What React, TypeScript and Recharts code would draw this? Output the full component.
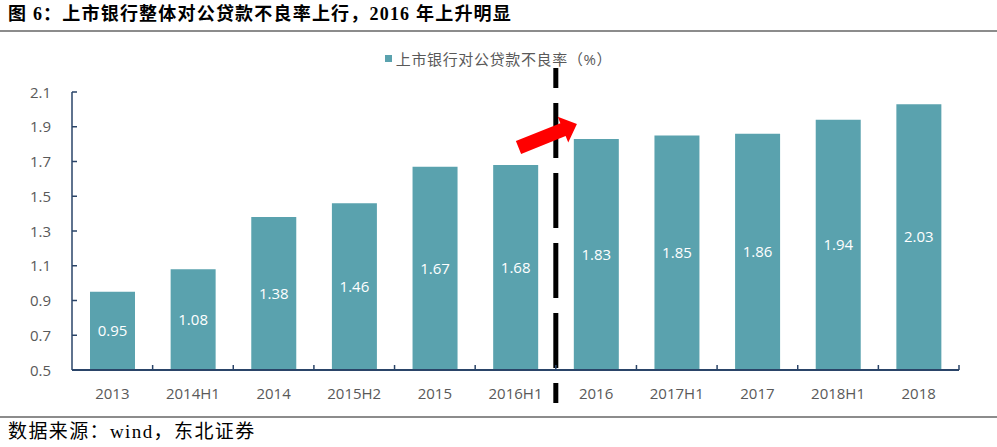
import { Bar, BarChart, LabelList, ReferenceDot, ReferenceLine, XAxis, YAxis } from 'recharts'

const periods = ['2013', '2014H1', '2014', '2015H2', '2015', '2016H1', '2016', '2017H1', '2017', '2018H1', '2018']
const nplRatio = [0.95, 1.08, 1.38, 1.46, 1.67, 1.68, 1.83, 1.85, 1.86, 1.94, 2.03]
const yTicks = [0.5, 0.7, 0.9, 1.1, 1.3, 1.5, 1.7, 1.9, 2.1]
const seriesName = '上市银行对公贷款不良率（%）'
const title = '图 6：上市银行整体对公贷款不良率上行，2016 年上升明显'
const source = '数据来源：wind，东北证券'
const breakPeriod = '2016'
const arrowAnchor = { period: '2016H1', value: 1.78 }

const W = 997
const H = 447
const BAR = '#5AA2AE'
const AXIS = '#2A4468'
const TEXT = '#595959'
const SANS = '"Open Sans", "Noto Sans CJK SC", sans-serif'
const SERIF = '"Liberation Serif", "Noto Sans CJK SC", serif'

const X_MARGIN = 16
const Y_MARGIN = 21

const data = periods.map((period, i) => ({ period, value: nplRatio[i] }))

// category labels centred, small tick marks at band edges pointing up
function XTick(props: any) {
  const { x, y, payload } = props
  const half = payload?.offset ?? 887 / periods.length / 2
  const axisY = y - X_MARGIN
  return (
    <g>
      <line x1={x + half} x2={x + half} y1={axisY} y2={axisY - 5} stroke={AXIS} strokeWidth={1.5} />
      <text x={x} y={y} dy={12.5} textAnchor="middle" fill={TEXT} fontSize={15} fontFamily={SANS}>
        {payload.value}
      </text>
    </g>
  )
}

function YTick(props: any) {
  const { x, y, payload } = props
  const axisX = x + Y_MARGIN
  return (
    <g>
      <line x1={axisX} x2={axisX + 5} y1={y} y2={y} stroke={AXIS} strokeWidth={1.5} />
      <text x={x} y={y} dy={5.5} textAnchor="end" fill={TEXT} fontSize={15} fontFamily={SANS}>
        {Number(payload.value).toFixed(1)}
      </text>
    </g>
  )
}

function Arrow(props: any) {
  const { cx, cy } = props
  return (
    <polygon
      transform={`translate(${cx + 3},${cy}) rotate(-22)`}
      points="0,-7 48,-7 48,-14 63,0 48,14 48,7 0,7"
      fill="#FF0000"
    />
  )
}

export default function App() {
  return (
    <div style={{ position: 'absolute', left: 0, top: 0, width: W, height: H, background: '#fff', overflow: 'hidden' }}>
      <div
        style={{
          position: 'absolute', left: 8, top: 3, fontFamily: SERIF, fontWeight: 'bold',
          fontSize: 18, lineHeight: '22px', color: '#000', whiteSpace: 'nowrap', letterSpacing: 1.2,
        }}
      >
        {title}
      </div>
      <div style={{ position: 'absolute', left: 0, top: 30, width: W, height: 2, background: '#8C8C8C' }} />

      <div
        style={{
          position: 'absolute', left: 0, top: 47, width: W, textAlign: 'center',
          fontFamily: SANS, fontSize: 15, lineHeight: '20px', color: TEXT, letterSpacing: 0.65,
        }}
      >
        <span style={{ display: 'inline-block', width: 7, height: 7, background: BAR, marginRight: 4, verticalAlign: 'middle' }} />
        <span style={{ verticalAlign: 'middle' }}>{seriesName}</span>
      </div>

      <div style={{ position: 'absolute', left: 0, top: 0 }}>
        <BarChart width={W} height={H} data={data} margin={{ top: 92, right: 38, bottom: 47, left: 12 }}>
          <XAxis
            dataKey="period"
            interval={0}
            height={30}
            tickSize={0}
            tickMargin={X_MARGIN}
            tickLine={false}
            axisLine={{ stroke: AXIS, strokeWidth: 2 }}
            tick={(p: any) => <XTick {...p} />}
          />
          <YAxis
            domain={[0.5, 2.1]}
            ticks={yTicks}
            width={60}
            tickSize={0}
            tickMargin={Y_MARGIN}
            tickLine={false}
            axisLine={{ stroke: AXIS, strokeWidth: 1.5 }}
            tick={(p: any) => <YTick {...p} />}
          />
          <Bar dataKey="value" fill={BAR} barSize={45} isAnimationActive={false}>
            <LabelList
              dataKey="value"
              position="center"
              fill="#fff"
              fontSize={15}
              fontFamily={SANS}
              formatter={(v: any) => Number(v).toFixed(2)}
            />
          </Bar>
          <ReferenceDot
            x={arrowAnchor.period}
            y={arrowAnchor.value}
            ifOverflow="visible"
            shape={(p: any) => <Arrow {...p} />}
          />
          <ReferenceLine
            segment={[{ x: breakPeriod, y: 2.238 }, { x: breakPeriod, y: 0.31 }]}
            position="start"
            ifOverflow="visible"
            stroke="#000"
            strokeWidth={5}
            strokeDasharray="55 15"
            strokeDashoffset={35}
          />
        </BarChart>
      </div>

      <div style={{ position: 'absolute', left: 0, top: 416, width: W, height: 2, background: '#8C8C8C' }} />
      <div
        style={{
          position: 'absolute', left: 8, top: 421, fontFamily: SERIF, fontSize: 19,
          lineHeight: '22px', color: '#000', whiteSpace: 'nowrap', letterSpacing: 1.4,
        }}
      >
        {source}
      </div>
    </div>
  )
}
